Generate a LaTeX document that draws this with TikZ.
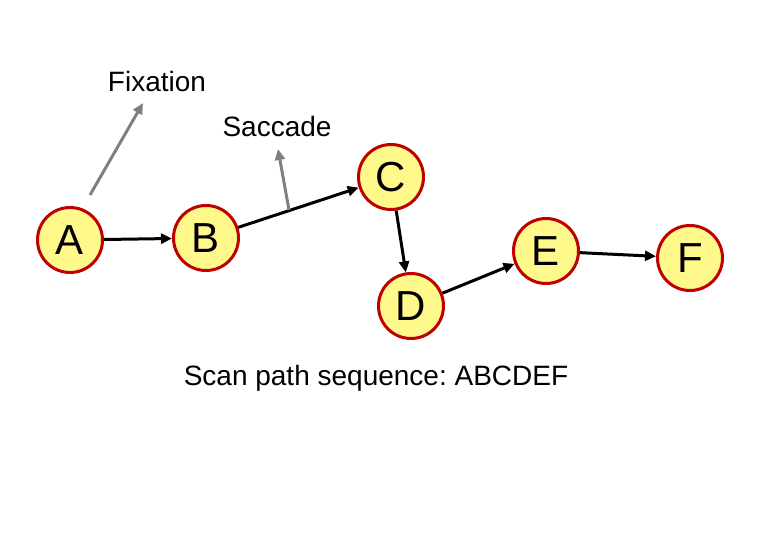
\documentclass[tikz,border=0pt]{standalone}
\usepackage{fontspec}
\setmainfont{Liberation Sans}
\usetikzlibrary{arrows.meta}
\frenchspacing

\begin{document}
\begin{tikzpicture}[
    x=1pt, y=-1pt,
    every node/.style={font=\fontsize{28}{32}\selectfont},
    fix/.style={draw=red!75!black, fill=yellow!45, line width=3pt, circle, minimum size=65pt, inner sep=0pt, font=\fontsize{42}{44}\selectfont},
    ar/.style={-{Triangle[length=11pt, width=10pt]}, line width=3pt, black},
    pointer/.style={-{Triangle[length=11pt, width=10pt]}, line width=3pt, gray}
]
\useasboundingbox (0,0) rectangle (764,546);
% fixations
\node[fix] (A) at (70,240) {A};
\node[fix] (B) at (206,238) {B};
\node[fix] (C) at (391,177) {C};
\node[fix] (D) at (411,306) {D};
\node[fix] (E) at (546,251) {E};
\node[fix] (F) at (690,258) {F};
% labels
\node (fixlabel) at (157,81) {Fixation};
\node (saclabel) at (277,126) {Saccade};
\node (seq) at (376,378) {Scan path sequence: ABCDEF};
\coordinate (fixtail) at (90,195);
\coordinate (fixhead) at (143,103);
\coordinate (sactail) at (289,210);
\coordinate (sachead) at (278,149);
% saccades
\draw[ar] (A) -- (B);
\draw[ar] (B) -- (C);
\draw[ar] (C) -- (D);
\draw[ar] (D) -- (E);
\draw[ar] (E) -- (F);
% pointers
\draw[pointer] (fixtail) -- (fixhead);
\draw[pointer] (sactail) -- (sachead);
\end{tikzpicture}
\end{document}
